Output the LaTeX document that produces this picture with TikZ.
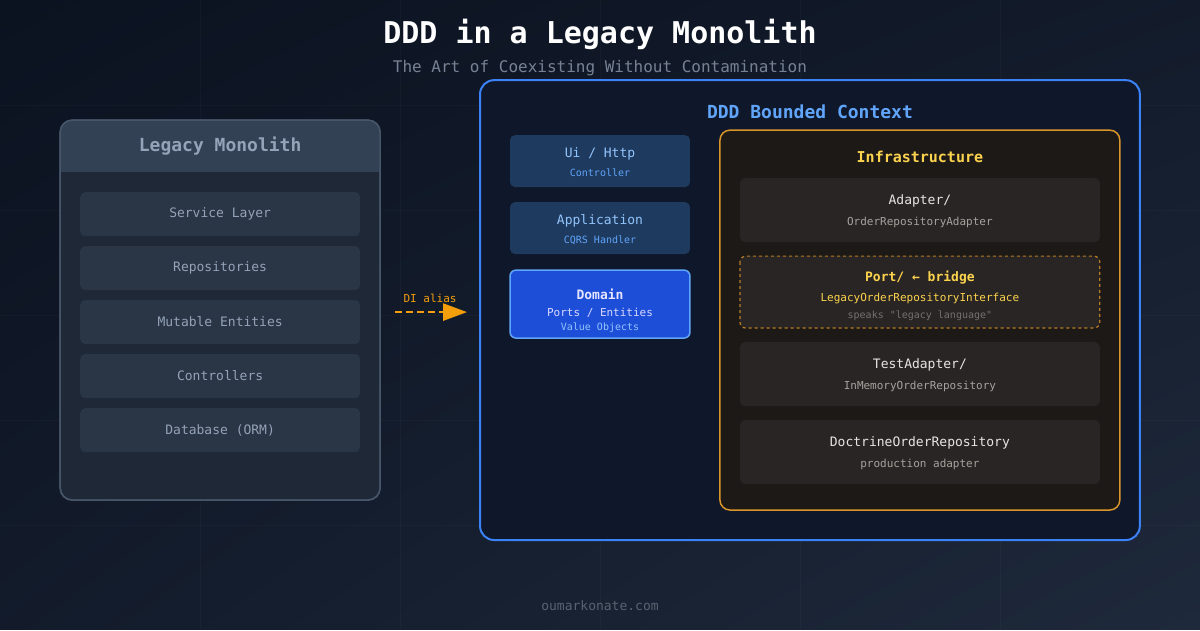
\documentclass[tikz,border=0pt]{standalone}
\usepackage{fontspec}
\setmainfont{DejaVu Sans Mono}[Ligatures=TeXOff]
\usetikzlibrary{arrows.meta,shadings}
\definecolor{bgA}{HTML}{0B1220}
\definecolor{bgB}{HTML}{1E293B}
\definecolor{legBox}{HTML}{1E2836}
\definecolor{legHead}{HTML}{334155}
\definecolor{legEdge}{HTML}{475569}
\definecolor{legItem}{HTML}{2A3546}
\definecolor{legText}{HTML}{94A3B8}
\definecolor{dddEdge}{HTML}{3B82F6}
\definecolor{dddFill}{HTML}{0F172A}
\definecolor{dddTitle}{HTML}{60A5FA}
\definecolor{layFill}{HTML}{1E3A5F}
\definecolor{layText}{HTML}{93C5FD}
\definecolor{laySub}{HTML}{60A5FA}
\definecolor{domFill}{HTML}{1D4ED8}
\definecolor{domEdge}{HTML}{60A5FA}
\definecolor{infFill}{HTML}{1C1917}
\definecolor{infEdge}{HTML}{D9942A}
\definecolor{infTitle}{HTML}{FCD34D}
\definecolor{itemFill}{HTML}{292524}
\definecolor{itemText}{HTML}{E7E5E4}
\definecolor{itemSub}{HTML}{A8A29E}
\definecolor{orange}{HTML}{F59E0B}
\begin{document}
\begin{tikzpicture}[x=1pt,y=-1pt,
  every node/.style={inner sep=0pt},
  t/.style={font=\fontsize{13}{15}\selectfont},
  s/.style={font=\fontsize{11}{13}\selectfont},
  xs/.style={font=\fontsize{10}{12}\selectfont}]
\shade[upper left=bgA,upper right=bgA!60!bgB,lower left=bgA!60!bgB,lower right=bgB] (0,0) rectangle (1200,630);
\foreach \x in {200,400,600,800,1000} \draw[white,opacity=0.025] (\x,0) -- (\x,630);
\foreach \y in {105,210,315,420,525} \draw[white,opacity=0.025] (0,\y) -- (1200,\y);
\useasboundingbox (0,0) rectangle (1200,630);
\node[white,font=\bfseries\fontsize{30}{34}\selectfont] (title) at (600,34) {DDD in a Legacy Monolith};
\node[legText!80!black,font=\fontsize{16}{18}\selectfont] (sub) at (600,68) {The Art of Coexisting Without Contamination};
% legacy
\draw[legEdge,fill=legBox,rounded corners=12pt,line width=1.5pt] (60,120) rectangle (380,500);
\begin{scope}
\clip[rounded corners=12pt] (60,120) rectangle (380,500);
\fill[legHead] (60,120) rectangle (380,172);
\end{scope}
\draw[legEdge,rounded corners=12pt,line width=1.5pt] (60,120) rectangle (380,500);
\node[legText,font=\bfseries\fontsize{18}{20}\selectfont] (legt) at (220,146) {Legacy Monolith};
\foreach \n/\y/\l in {a/214/Service Layer,b/268/Repositories,c/322/Mutable Entities,d/376/Controllers,e/430/Database (ORM)}{
  \fill[legItem,rounded corners=5pt] (80,\y-22) rectangle (360,\y+22);
  \node[legText,t] (leg\n) at (220,\y) {\l};
}
% DDD
\draw[dddEdge,fill=dddFill,rounded corners=14pt,line width=2pt] (480,80) rectangle (1140,540);
\node[dddTitle,font=\bfseries\fontsize{18}{20}\selectfont] (dddt) at (810,112) {DDD Bounded Context};
\fill[layFill,rounded corners=5pt] (510,135) rectangle (690,187);
\node[layText,t] (ui) at (600,154) {Ui / Http};
\node[laySub,xs] (uis) at (600,173) {Controller};
\fill[layFill,rounded corners=5pt] (510,202) rectangle (690,254);
\node[layText,t] (app) at (600,221) {Application};
\node[laySub,xs] (apps) at (600,240) {CQRS Handler};
\draw[domEdge,fill=domFill,rounded corners=6pt,line width=1.5pt] (510,270) rectangle (690,338);
\node[white!90!blue,font=\bfseries\fontsize{13}{15}\selectfont] (dom) at (600,294) {Domain};
\node[white!85!blue,s] (doms) at (600,313) {Ports / Entities};
\node[layText,xs] (domv) at (600,328) {Value Objects};
\coordinate (arrS) at (395,312);
\coordinate (arrE) at (467,312);
\draw[orange,line width=2.5pt,dash pattern=on 7pt off 4pt,-{Triangle[length=24pt,width=17pt]}] (arrS) -- (arrE);
\node[orange,s] (di) at (430,298) {DI alias};
% infra
\draw[infEdge,fill=infFill,rounded corners=10pt,line width=1.5pt] (720,130) rectangle (1120,510);
\node[infTitle,font=\bfseries\fontsize{15}{17}\selectfont] (inft) at (920,157) {Infrastructure};
\fill[itemFill,rounded corners=5pt] (740,178) rectangle (1100,242);
\node[itemText,t] (ad) at (920,201) {Adapter/};
\node[itemSub,s] (ads) at (920,222) {OrderRepositoryAdapter};
\draw[infEdge!85!black,fill=itemFill,dashed,rounded corners=6pt,line width=1.2pt] (740,256) rectangle (1100,328);
\node[infTitle,font=\bfseries\fontsize{13}{15}\selectfont] (port) at (920,277) {Port/ ← bridge};
\node[infTitle,s] (ports) at (920,298) {LegacyOrderRepositoryInterface};
\node[itemSub!70!black,xs] (portx) at (920,316) {speaks "legacy language"};
\fill[itemFill,rounded corners=5pt] (740,342) rectangle (1100,406);
\node[itemText,t] (ta) at (920,365) {TestAdapter/};
\node[itemSub,s] (tas) at (920,386) {InMemoryOrderRepository};
\fill[itemFill,rounded corners=5pt] (740,420) rectangle (1100,484);
\node[itemText,t] (dr) at (920,443) {DoctrineOrderRepository};
\node[itemSub,s] (drs) at (920,464) {production adapter};
\node[legText!60!black,t] (foot) at (600,606) {oumarkonate.com};
\end{tikzpicture}
\end{document}
